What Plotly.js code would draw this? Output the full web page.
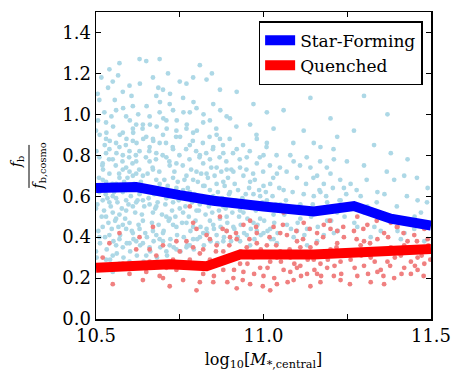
<!DOCTYPE html>
<html>
<head>
<meta charset="utf-8">
<script src="https://cdn.plot.ly/plotly-3.0.1.min.js"></script>
<style>html,body{margin:0;padding:0;background:#fff}</style>
</head>
<body>
<div id="chart" style="width:463px;height:386px"></div>
<script>
// star-forming centrals (light blue dots)
let sfMass = [10.51,10.52,10.53,10.50,10.54,10.55,10.56,10.57,10.58,10.59,10.60,10.61,10.52,10.53,10.55,10.56,10.58,10.59,10.60,10.61,10.51,10.54,10.57,10.58,10.60,10.62,10.50,10.53,10.55,10.57,10.59,10.61,10.52,10.54,10.56,10.58,10.60,10.62,10.51,10.53,10.55,10.57,10.59,10.61,10.50,10.54,10.56,10.58,10.60,10.62,10.52,10.55,10.57,10.59,10.61,10.53,10.56,10.58,10.60,10.62,10.51,10.54,10.57,10.59,10.61,10.55,10.58,10.60,10.53,10.56,
  10.63,10.64,10.65,10.66,10.67,10.68,10.69,10.70,10.71,10.72,10.73,10.74,10.63,10.64,10.65,10.66,10.67,10.68,10.69,10.70,10.71,10.72,10.73,10.74,10.63,10.64,10.65,10.66,10.67,10.68,10.69,10.70,10.71,10.72,10.73,10.74,10.65,10.66,10.68,10.69,10.70,10.72,10.73,10.74,10.63,10.64,10.67,10.68,10.70,10.71,10.72,10.74,10.69,10.66,10.71,10.73,10.64,10.67,10.75,10.62,
  10.76,10.77,10.78,10.79,10.80,10.81,10.82,10.83,10.84,10.85,10.86,10.87,10.88,10.89,10.76,10.77,10.78,10.79,10.80,10.81,10.82,10.83,10.84,10.85,10.86,10.87,10.88,10.89,10.76,10.77,10.78,10.79,10.80,10.81,10.82,10.83,10.84,10.85,10.86,10.87,10.88,10.89,10.77,10.79,10.81,10.83,10.85,10.87,10.89,10.78,10.80,10.82,10.84,10.86,10.88,10.846,10.715,10.75,10.77,10.79,
  10.90,10.91,10.92,10.93,10.94,10.95,10.96,10.97,10.98,10.99,11.00,11.01,11.02,11.03,11.04,10.90,10.92,10.93,10.95,10.96,10.97,10.99,11.00,11.02,11.03,10.91,10.94,10.96,10.98,11.01,11.04,10.92,10.95,10.98,11.00,11.03,10.93,10.97,11.01,11.05,
  11.06,11.07,11.08,11.09,11.10,11.11,11.12,11.13,11.14,11.15,11.16,11.17,11.18,11.19,11.20,11.21,11.22,11.23,11.24,11.06,11.08,11.10,11.12,11.14,11.16,11.18,11.20,11.22,11.09,11.13,11.17,11.21,11.11,11.15,11.19,
  11.26,11.28,11.30,11.32,11.34,11.36,11.38,11.40,11.42,11.44,11.46,11.48,11.27,11.31,11.35,11.39,11.43,11.47,11.29,11.33,11.37,11.41,11.45,11.49,11.30];
let sfFrac = [0.62,0.45,0.88,0.33,0.71,0.52,1.02,0.39,0.80,0.58,0.47,0.93,0.76,0.29,1.16,0.66,0.35,0.99,0.72,0.55,1.07,0.41,0.84,0.62,0.28,0.77,0.54,0.96,0.31,0.69,0.44,0.87,0.58,0.83,0.49,1.11,0.65,0.38,0.79,0.67,0.60,0.51,0.74,0.42,0.92,1.22,0.36,0.91,0.82,0.57,0.68,0.78,0.27,0.63,1.04,0.50,0.86,0.46,0.37,0.95,0.40,0.57,1.25,0.53,0.70,0.23,0.73,1.14,0.81,0.59,
  0.61,0.48,0.89,0.35,0.73,0.55,1.01,0.42,0.79,0.60,0.46,0.92,1.27,0.70,0.31,0.84,0.52,1.09,0.66,0.38,0.97,0.75,0.57,0.34,0.44,0.95,0.63,0.77,1.18,0.41,0.86,0.62,0.50,1.05,0.69,0.45,1.26,0.56,0.81,0.39,0.90,0.36,0.83,0.64,0.82,0.58,0.43,0.68,1.12,0.59,0.49,0.76,1.27,0.99,0.33,1.02,0.37,0.88,0.54,0.71,
  0.63,0.47,0.85,0.39,0.72,0.56,0.96,0.44,0.78,0.60,0.41,0.88,0.67,0.50,1.08,0.70,0.36,0.91,0.53,0.80,0.65,1.17,0.48,0.84,0.74,0.57,0.38,0.99,0.52,0.93,0.62,0.45,1.03,0.40,0.76,0.58,0.97,0.46,0.66,1.12,0.81,0.43,0.35,0.68,1.24,0.71,1.05,0.49,0.73,1.01,0.59,0.42,0.63,0.90,0.55,1.20,1.20,1.16,1.15,1.18,
  0.62,0.45,0.83,0.38,0.70,0.55,0.95,0.47,0.76,0.60,0.42,0.86,0.66,0.51,0.37,0.98,0.57,0.74,0.41,0.67,1.05,0.49,0.80,0.44,0.93,0.72,0.52,0.36,0.88,0.58,0.71,1.11,0.79,0.43,0.65,0.39,0.53,0.61,1.01,0.56,
  0.63,0.46,0.80,0.40,0.69,0.56,0.92,0.44,0.74,0.60,0.38,0.84,0.66,0.48,0.71,0.42,0.89,0.58,0.64,1.02,0.53,0.43,0.61,1.08,0.70,0.41,0.98,0.52,0.77,0.36,0.62,0.78,0.49,0.86,0.57,
  0.66,0.45,0.75,0.40,0.62,0.50,0.81,0.43,0.70,0.47,0.58,0.38,0.92,0.55,0.43,0.68,0.78,0.52,0.60,0.85,1.00,0.39,0.44,0.64,1.09];

// more star-forming dots filling the dense low-mass cloud
let sfMass2 = [10.502,10.507,10.504,10.509,10.501,10.506,10.505, 10.512,10.517,10.514,10.519,10.511,10.516,
  10.522,10.527,10.524,10.529,10.521,10.526,10.525, 10.532,10.537,10.534,10.539,10.531,10.536,
  10.542,10.547,10.544,10.549,10.541,10.546, 10.552,10.557,10.554,10.559,10.551,10.556,
  10.562,10.567,10.564,10.569,10.561,10.566, 10.572,10.577,10.574,10.579,10.571,
  10.582,10.587,10.584,10.589,10.581, 10.592,10.597,10.594,10.599,10.591,
  10.602,10.607,10.604,10.609,10.601,10.606, 10.612,10.617,10.614,10.619,10.611,
  10.622,10.627,10.624,10.629,10.621,10.626, 10.632,10.637,10.634,10.639,10.631,
  10.642,10.647,10.644,10.649,10.641, 10.652,10.657,10.654,10.659,10.651,
  10.662,10.667,10.664,10.669,10.661, 10.672,10.677,10.674,10.679,10.671,
  10.682,10.687,10.684,10.689,10.681,10.686, 10.692,10.697,10.694,10.699,10.691,
  10.702,10.707,10.704,10.709,10.701, 10.712,10.717,10.714,10.719,10.711,
  10.722,10.727,10.724,10.729,10.721, 10.732,10.737,10.734,10.739,
  10.742,10.747,10.744,10.749,10.741, 10.752,10.757,10.754,10.759,10.751,
  10.762,10.767,10.764,10.769,10.761, 10.772,10.777,10.774,10.779,10.771,
  10.782,10.787,10.784,10.789, 10.792,10.797,10.794,10.799,10.791,
  10.802,10.807,10.804,10.809,10.801, 10.812,10.817,10.814,10.819,
  10.822,10.827,10.824,10.829,10.821, 10.832,10.837,10.834,10.839,
  10.842,10.847,10.844,10.849, 10.852,10.857,10.854,10.859,
  10.862,10.867,10.864,10.869, 10.872,10.877,10.874,10.879,10.871,
  10.882,10.887,10.884,10.889, 10.892,10.897,10.894,10.899,
  10.903,10.907,10.904,10.909, 10.913,10.917,10.914,10.919, 10.923,10.927,10.924,10.929,
  10.932,10.937,10.939, 10.942,10.947,10.949, 10.952,10.957,10.959, 10.962,10.967,10.969,
  10.973,10.977,10.974,10.979, 10.982,10.987,10.989, 10.992,10.997,10.999,
  11.002,11.007,11.009, 11.012,11.017,11.019, 11.022,11.027,11.029, 11.032,11.037,11.039,
  11.042,11.047,11.049, 11.062,11.067,11.069, 11.082,11.087,11.089, 11.102,11.107,11.109,
  11.122,11.127,11.129, 11.142,11.147,11.149, 11.162,11.167,11.169, 11.182,11.187,11.189,
  11.202,11.207,11.209, 11.222,11.227,11.229, 11.242,11.247,11.249,
  11.271,11.278, 11.301,11.308, 11.331,11.338, 11.361,11.368, 11.391,11.398, 11.421,11.428,
  11.451,11.458, 11.481,11.488];
let sfFrac2 = [0.30,0.43,0.56,0.69,0.82,0.97,1.10, 0.37,0.50,0.64,0.75,0.90,1.18,
  0.26,0.40,0.53,0.61,0.73,0.85,1.01, 0.34,0.47,0.59,0.78,0.91,1.13,
  0.29,0.44,0.55,0.66,0.87,0.99, 0.38,0.48,0.62,0.75,0.94,1.07,
  0.32,0.45,0.57,0.71,0.81,1.19, 0.41,0.54,0.64,0.77,0.90,
  0.30,0.49,0.67,0.85,1.03, 0.37,0.56,0.69,0.79,0.88,
  0.33,0.43,0.60,0.76,0.97,1.09, 0.39,0.52,0.66,0.80,0.91,
  0.31,0.46,0.58,0.73,0.86,1.00, 0.36,0.51,0.67,0.93,1.15,
  0.28,0.42,0.55,0.79,0.88, 0.40,0.59,0.71,0.82,1.04,
  0.33,0.47,0.64,0.74,0.95, 0.38,0.54,0.61,0.78,0.87,
  0.30,0.46,0.57,0.72,0.94,1.13, 0.35,0.51,0.63,0.80,1.06,
  0.43,0.56,0.68,0.86,0.98, 0.31,0.48,0.65,0.77,0.93,
  0.39,0.53,0.62,0.84,1.10, 0.35,0.50,0.72,0.89,
  0.41,0.58,0.67,0.80,0.97, 0.33,0.47,0.61,0.75,0.89,
  0.40,0.55,0.68,0.83,1.01, 0.36,0.50,0.64,0.78,0.95,
  0.43,0.57,0.73,0.87, 0.34,0.48,0.61,0.82,1.06,
  0.39,0.53,0.67,0.79,0.92, 0.45,0.60,0.71,0.86,
  0.36,0.51,0.65,0.81,1.00, 0.42,0.55,0.69,0.89,
  0.38,0.52,0.74,0.83, 0.44,0.57,0.70,0.93,
  0.37,0.53,0.62,0.79, 0.45,0.59,0.72,0.85,1.02,
  0.40,0.54,0.65,0.77, 0.47,0.61,0.69,0.88,
  0.38,0.52,0.73,0.81, 0.44,0.58,0.66,0.94, 0.40,0.50,0.63,0.78,
  0.46,0.59,0.85, 0.42,0.61,0.73, 0.49,0.64,0.82, 0.44,0.56,0.71,
  0.39,0.53,0.68,0.90, 0.46,0.63,0.79, 0.41,0.57,0.72,
  0.48,0.62,0.84, 0.43,0.54,0.75, 0.39,0.60,0.69, 0.47,0.56,0.80,
  0.42,0.64,0.74, 0.51,0.58,0.72, 0.44,0.62,0.86, 0.47,0.55,0.75,
  0.41,0.66,0.79, 0.50,0.56,0.69, 0.45,0.63,0.77, 0.53,0.60,0.74,
  0.48,0.64,0.83, 0.43,0.58,0.68, 0.50,0.61,0.77,
  0.47,0.63, 0.52,0.68, 0.45,0.57, 0.61,0.72, 0.48,0.55, 0.42,0.60,
  0.50,0.69, 0.45,0.57];

// quenched centrals (light red dots)
let qMass = [10.52,10.55,10.57,10.60,10.62,10.64,10.66,10.67,10.69,10.70,10.72,10.73,10.74,10.58,10.63,10.68,10.71,10.54,10.65,10.75,
  10.76,10.77,10.78,10.79,10.80,10.81,10.82,10.83,10.84,10.85,10.86,10.87,10.88,10.89,10.90,10.91,10.92,10.93,10.94,10.95,10.96,10.97,10.98,10.99,10.78,10.82,10.86,10.90,10.94,10.98,10.80,10.88,10.92,10.96,10.84,
  11.00,11.01,11.02,11.03,11.04,11.05,11.06,11.07,11.08,11.09,11.10,11.11,11.12,11.13,11.14,11.15,11.16,11.17,11.18,11.19,11.20,11.21,11.22,11.23,11.24,11.02,11.05,11.08,11.11,11.14,11.17,11.20,11.23,11.06,11.12,11.18,11.04,11.10,11.16,11.22,
  11.26,11.27,11.28,11.29,11.30,11.31,11.32,11.33,11.34,11.35,11.36,11.37,11.38,11.39,11.40,11.41,11.42,11.43,11.44,11.45,11.46,11.47,11.48,11.49,11.28,11.32,11.36,11.40,11.44,11.48,11.30,11.34,11.38,11.42,11.46,
  10.852,10.858,10.872,10.878,10.892,10.898,10.912,10.918,10.932,10.938,10.952,10.958,10.972,10.978,10.992,10.998,
  11.012,11.018,11.032,11.038,11.052,11.058,11.072,11.078,11.092,11.098,11.112,11.118,11.132,11.138,11.152,11.158,
  11.172,11.178,11.192,11.198,11.212,11.218,11.232,11.238,11.252,11.258,11.272,11.278,11.292,11.298,11.312,11.318,
  11.332,11.338,11.352,11.358,11.372,11.378,11.392,11.398,11.412,11.418,11.432,11.438,11.452,11.458,11.472,11.478,
  11.492,11.498,10.61,10.66,10.70,10.74,10.78,10.81,10.83,10.79];
let qFrac = [0.30,0.17,0.42,0.22,0.34,0.19,0.28,0.45,0.21,0.36,0.16,0.29,0.24,0.27,0.40,0.31,0.25,0.37,0.23,0.33,
  0.19,0.38,0.26,0.47,0.14,0.32,0.22,0.41,0.29,0.18,0.36,0.50,0.24,0.43,0.31,0.20,0.39,0.27,0.46,0.35,0.17,0.30,0.42,0.25,0.55,0.34,0.28,0.40,0.23,0.37,0.44,0.33,0.15,0.48,0.39,
  0.21,0.36,0.28,0.45,0.17,0.33,0.24,0.41,0.30,0.19,0.38,0.26,0.47,0.22,0.35,0.29,0.42,0.18,0.32,0.25,0.44,0.21,0.37,0.28,0.40,0.14,0.42,0.23,0.35,0.16,0.27,0.34,0.19,0.52,0.31,0.46,0.30,0.25,0.22,0.43,
  0.29,0.43,0.21,0.36,0.26,0.46,0.18,0.33,0.39,0.24,0.42,0.28,0.35,0.20,0.45,0.31,0.25,0.38,0.22,0.41,0.30,0.35,0.27,0.39,0.50,0.30,0.17,0.33,0.28,0.44,0.38,0.23,0.47,0.36,0.24,
  0.21,0.33,0.27,0.44,0.18,0.36,0.24,0.42,0.33,0.19,0.27,0.39,0.22,0.45,0.34,0.16,
  0.25,0.40,0.20,0.36,0.28,0.46,0.18,0.34,0.27,0.43,0.21,0.39,0.29,0.44,0.24,0.37,
  0.21,0.40,0.29,0.48,0.26,0.35,0.22,0.45,0.33,0.17,0.25,0.39,0.31,0.44,0.22,0.37,
  0.28,0.48,0.34,0.21,0.40,0.26,0.30,0.45,0.22,0.42,0.33,0.47,0.26,0.38,0.31,0.21,
  0.36,0.29,0.25,0.34,0.20,0.38,0.29,0.18,0.25,0.35];

// median lines
let sfLineMass = [10.5, 10.62, 10.75, 10.85, 11.0, 11.15, 11.27, 11.38, 11.5];
let sfLineFrac = [0.64, 0.645, 0.605, 0.578, 0.55, 0.525, 0.552, 0.49, 0.457];
let qLineMass = [10.5, 10.72, 10.83, 10.93, 11.15, 11.5];
let qLineFrac = [0.25, 0.268, 0.258, 0.315, 0.315, 0.342];

let serif = "DejaVu Serif, serif";
let dotSize = 4.8;

let traces = [
  {x: sfMass.concat(sfMass2), y: sfFrac.concat(sfFrac2), mode: "markers", type: "scatter", showlegend: false,
   marker: {color: "#add8e6", size: dotSize}, hoverinfo: "skip"},
  {x: qMass, y: qFrac, mode: "markers", type: "scatter", showlegend: false,
   marker: {color: "#f08080", size: dotSize}, hoverinfo: "skip"},
  {x: sfLineMass, y: sfLineFrac, mode: "lines", type: "scatter", name: "Star-Forming",
   line: {color: "#0000ff", width: 10}},
  {x: qLineMass, y: qLineFrac, mode: "lines", type: "scatter", name: "Quenched",
   line: {color: "#ff0000", width: 10}}
];

let axisStyle = {
  showline: true, linecolor: "black", linewidth: 1.5, mirror: "ticks",
  ticks: "inside", ticklen: 5, tickcolor: "black", showgrid: false, zeroline: false,
  tickfont: {family: serif, size: 18, color: "black"}
};

let layout = {
  width: 463, height: 386,
  margin: {l: 96, r: 32, t: 12, b: 67},
  paper_bgcolor: "white", plot_bgcolor: "white",
  xaxis: Object.assign({}, axisStyle, {
    range: [10.5, 11.5],
    tickvals: [10.5, 10.75, 11.0, 11.25, 11.5],
    ticktext: ["10.5", "", "11.0", "", "11.5"],
    title: {text: "log<sub>10</sub>[<i>M</i><sub>*,central</sub>]",
            font: {family: serif, size: 16, color: "black"}, standoff: 8}
  }),
  yaxis: Object.assign({}, axisStyle, {
    range: [0, 1.5], dtick: 0.2, tick0: 0, tickformat: ".1f"
  }),
  legend: {
    x: 0.975, y: 0.97, xanchor: "right", yanchor: "top",
    bgcolor: "white", bordercolor: "black", borderwidth: 1.5,
    font: {family: serif, size: 17, color: "black"}
  },
  annotations: [
    {xref: "paper", yref: "paper", x: -0.236, y: 0.511, xanchor: "center", yanchor: "middle",
     showarrow: false, textangle: -90,
     text: "<i>f</i><sub>b</sub>", font: {family: serif, size: 14, color: "black"}},
    {xref: "paper", yref: "paper", x: -0.17, y: 0.497, xanchor: "center", yanchor: "middle",
     showarrow: false, textangle: -90,
     text: "<i>f</i><sub>b,cosmo</sub>", font: {family: serif, size: 14, color: "black"}}
  ],
  shapes: [
    {type: "line", xref: "paper", yref: "paper", x0: -0.2, x1: -0.2, y0: 0.427, y1: 0.567,
     line: {color: "black", width: 1}}
  ]
};

Plotly.newPlot("chart", traces, layout, {displayModeBar: false, staticPlot: true});
</script>
</body>
</html>
